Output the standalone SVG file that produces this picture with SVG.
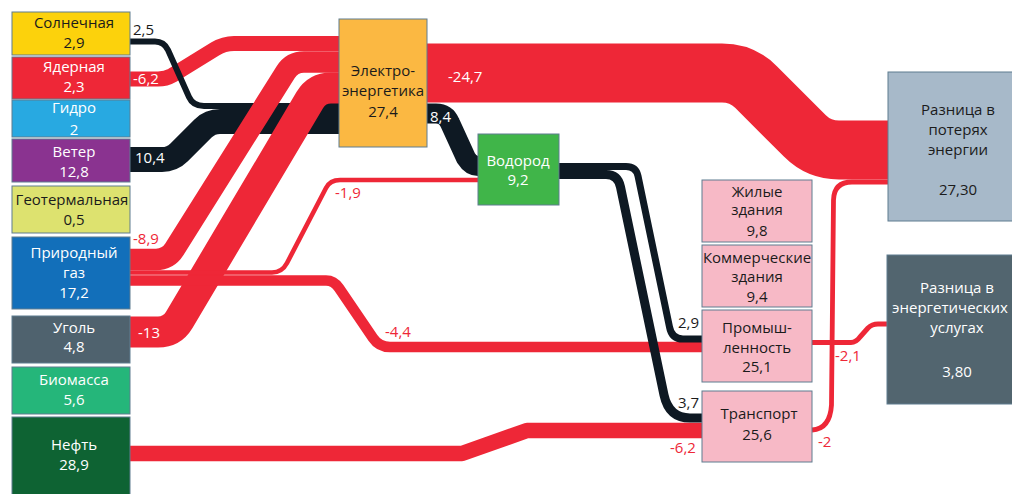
<svg xmlns="http://www.w3.org/2000/svg" width="1012" height="494" viewBox="0 0 1012 494">
<style>
.bg{fill:#ffffff}
.node rect{stroke:#5f7d90;stroke-width:1}
.lbl{font-family:"Open Sans","Noto Sans",sans-serif;font-size:15px;text-anchor:middle}
.fl{font-family:"Open Sans","Noto Sans",sans-serif;font-size:15px}
.w{fill:#ffffff}
.d{fill:#1b1b1b}
.r{fill:#ee2737}
.red{fill:none;stroke:#ee2737;stroke-linejoin:round}
.blk{fill:none;stroke:#0e1923;stroke-linejoin:round}
</style>
<rect class="bg" x="0" y="0" width="1012" height="494"/>
<g id="connectors">
  <path class="red" stroke-width="15" d="M130,79 H158 Q166,79 172,75.5 L215,49 Q224,43.5 234,43.5 H339"/>
  <path class="blk" stroke-width="6" d="M130,41.5 H155 Q164,41.5 168,50 L189,97 Q193,106 204,106 H339"/>
  <path class="blk" stroke-width="25" d="M130,159.5 H162 Q172,159.5 179,152.5 L203,128.5 Q210,121.5 220,121.5 H339"/>
  <path class="red" stroke-width="21.5" d="M130,259.5 H156 Q168,259.5 174.4,249.3 L285.6,72.2 Q292,62 304,62 H339"/>
  <path class="red" stroke-width="31" d="M130,332 H158 Q172,332 179.2,320 L309.8,100 Q317,88 331,88 H339"/>
  <path class="red" stroke-width="4.6" d="M130,272.5 H272 Q282,272.5 287,263 L326,188 Q330,180 340,180 H478"/>
  <path class="red" stroke-width="10.5" d="M130,280.5 H326 Q334,280.5 339,288 L373,338 Q379,347 390,347 H702"/>
  <path class="blk" stroke-width="20" d="M427,113.5 H436 Q446,113.5 450,123 L466,158 Q471,166 478,166"/>
  <path class="red" stroke-width="59" d="M427,73 H722 Q742,73 756,87 L805,136 Q819,150 839,150 H888"/>
  <path class="red" stroke-width="15.5" d="M130,453.5 H462 L527,430.5 H702"/>
  <path class="blk" stroke-width="7" d="M559,166.5 H626 Q636,166.5 638,176 L669.5,327 Q671.7,339 683,339 H702"/>
  <path class="blk" stroke-width="9" d="M559,174.5 H606 Q618,174.5 620.5,187 L664,395 Q669,418 690,418 H702"/>
  <path class="red" stroke-width="4.8" d="M812,430 Q830,429 831.5,405 L833.5,200 Q834,182 852,182 H888"/>
  <path class="red" stroke-width="5" d="M812,342.5 H851 Q856,342.5 860,337 L868,328 Q872,324 878,324 H887"/>
</g>
<g id="n-solar" class="node"><rect x="12" y="12" width="118" height="43" fill="#fcd20c"/><text class="lbl d" x="74" y="28">Солнечная</text><text class="lbl d" x="74" y="48">2,9</text></g>
<g id="n-nuclear" class="node"><rect x="12" y="57" width="118" height="42" fill="#ee2737"/><text class="lbl w" x="74" y="72">Ядерная</text><text class="lbl w" x="74" y="92">2,3</text></g>
<g id="n-hydro" class="node"><rect x="12" y="100" width="118" height="37" fill="#28a9e1"/><text class="lbl w" x="74" y="113">Гидро</text><text class="lbl w" x="74" y="135">2</text></g>
<g id="n-wind" class="node"><rect x="12" y="139" width="118" height="43" fill="#8a3390"/><text class="lbl w" x="74" y="157">Ветер</text><text class="lbl w" x="74" y="177">12,8</text></g>
<g id="n-geo" class="node"><rect x="12" y="186" width="118" height="47" fill="#dde26f"/><text class="lbl d" x="72" y="205">Геотермальная</text><text class="lbl d" x="74" y="225">0,5</text></g>
<g id="n-gas" class="node"><rect x="12" y="237" width="118" height="72" fill="#126fba"/><text class="lbl w" x="74" y="258">Природный</text><text class="lbl w" x="74" y="278">газ</text><text class="lbl w" x="74" y="298">17,2</text></g>
<g id="n-coal" class="node"><rect x="12" y="316" width="118" height="47" fill="#4f626e"/><text class="lbl w" x="74" y="333">Уголь</text><text class="lbl w" x="74" y="352">4,8</text></g>
<g id="n-bio" class="node"><rect x="12" y="367" width="118" height="47" fill="#25b67a"/><text class="lbl w" x="74" y="385">Биомасса</text><text class="lbl w" x="74" y="405">5,6</text></g>
<g id="n-oil" class="node"><rect x="12" y="417" width="118" height="82" fill="#0e6333"/><text class="lbl w" x="74" y="450">Нефть</text><text class="lbl w" x="74" y="470">28,9</text></g>
<g id="n-power" class="node"><rect x="339" y="19" width="88" height="128" fill="#fbb842"/><text class="lbl d" x="383" y="76">Электро-</text><text class="lbl d" x="383" y="96">энергетика</text><text class="lbl d" x="383" y="117">27,4</text></g>
<g id="n-h2" class="node"><rect x="478" y="134" width="81" height="71" fill="#40b549"/><text class="lbl w" x="518" y="166">Водород</text><text class="lbl w" x="518" y="185">9,2</text></g>
<g id="n-res" class="node"><rect x="702" y="180" width="110" height="62" fill="#f7b9c6"/><text class="lbl d" x="757" y="197">Жилые</text><text class="lbl d" x="757" y="215">здания</text><text class="lbl d" x="757" y="236">9,8</text></g>
<g id="n-com" class="node"><rect x="702" y="245" width="110" height="62" fill="#f7b9c6"/><text class="lbl d" x="757" y="263">Коммерческие</text><text class="lbl d" x="757" y="282">здания</text><text class="lbl d" x="757" y="302">9,4</text></g>
<g id="n-ind" class="node"><rect x="702" y="310" width="110" height="72" fill="#f7b9c6"/><text class="lbl d" x="757" y="333">Промыш-</text><text class="lbl d" x="757" y="353">ленность</text><text class="lbl d" x="757" y="372">25,1</text></g>
<g id="n-trn" class="node"><rect x="702" y="391" width="110" height="71" fill="#f7b9c6"/><text class="lbl d" x="759" y="419">Транспорт</text><text class="lbl d" x="757" y="440">25,6</text></g>
<g id="n-loss" class="node"><rect x="888" y="72" width="130" height="149" fill="#a7b9c9"/><text class="lbl d" x="958" y="115">Разница в</text><text class="lbl d" x="958" y="135">потерях</text><text class="lbl d" x="958" y="155">энергии</text><text class="lbl d" x="958" y="195">27,30</text></g>
<g id="n-svc" class="node"><rect x="887" y="255" width="130" height="149" fill="#52656f"/><text class="lbl w" x="957" y="293">Разница в</text><text class="lbl w" x="950" y="313" font-size="14.5">энергетических</text><text class="lbl w" x="957" y="333">услугах</text><text class="lbl w" x="957" y="377">3,80</text></g>
<g id="flow-labels">
  <text class="fl d" x="133" y="35">2,5</text>
  <text class="fl w" x="133" y="84">-6,2</text>
  <text class="fl w" x="135" y="163">10,4</text>
  <text class="fl r" x="133" y="244">-8,9</text>
  <text class="fl w" x="138" y="338">-13</text>
  <text class="fl w" x="448" y="82">-24,7</text>
  <text class="fl w" x="430" y="122">8,4</text>
  <text class="fl r" x="335" y="198">-1,9</text>
  <text class="fl r" x="385" y="337">-4,4</text>
  <text class="fl d" x="678" y="328">2,9</text>
  <text class="fl d" x="678" y="408">3,7</text>
  <text class="fl r" x="670" y="453">-6,2</text>
  <text class="fl r" x="818" y="447">-2</text>
  <text class="fl r" x="835" y="361">-2,1</text>
</g>
</svg>
